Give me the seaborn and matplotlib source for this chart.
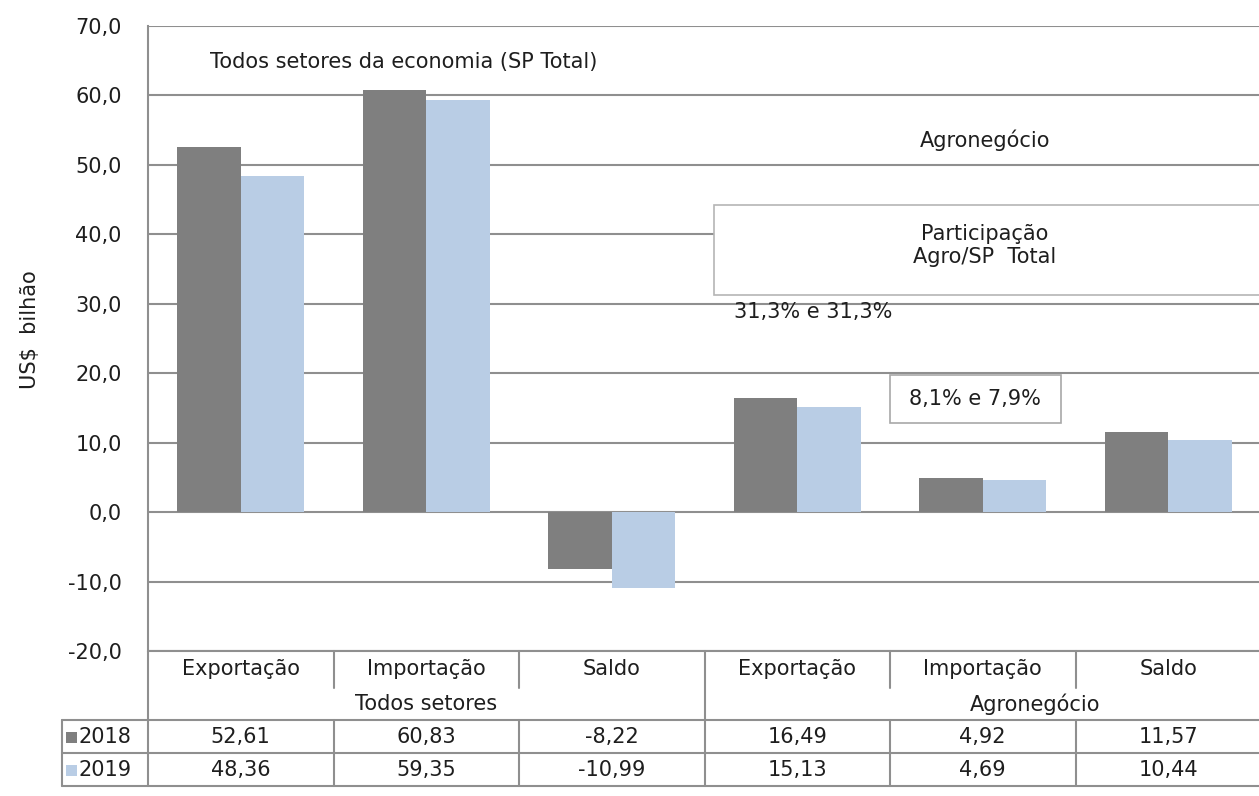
import numpy as np
import pandas as pd
import seaborn as sns
import matplotlib.pyplot as plt
from matplotlib.patches import Rectangle
from matplotlib.lines import Line2D
from matplotlib.transforms import blended_transform_factory

# data
grupos = ['Todos setores', 'Agronegócio']
categorias = ['Exportação', 'Importação', 'Saldo', 'Exportação', 'Importação', 'Saldo']
anos = ['2018', '2019']
v2018 = [52.61, 60.83, -8.22, 16.49, 4.92, 11.57]
v2019 = [48.36, 59.35, -10.99, 15.13, 4.69, 10.44]
yticks = [-20, -10, 0, 10, 20, 30, 40, 50, 60, 70]

cores = ['#7f7f7f', '#b9cde5']
cor_grade = '#8f8f8f'
cor_texto = '#1e1e1e'
fs = 15


def br(v, nd):
    return f'{v:.{nd}f}'.replace('.', ',')


chaves = [f'{i}_{c}' for i, c in enumerate(categorias)]
df = pd.DataFrame({
    'chave': chaves * 2,
    'ano': [anos[0]] * 6 + [anos[1]] * 6,
    'valor': v2018 + v2019,
})

sns.set_theme(style='white')
plt.rcParams['font.family'] = ['DejaVu Sans']

W, H = 1259, 796
fig = plt.figure(figsize=(W / 100, H / 100), dpi=100)
ax = fig.add_axes([148 / W, 1 - 651 / H, (1261 - 148) / W, (651 - 26) / H])

sns.barplot(data=df, x='chave', y='valor', hue='ano', order=chaves, hue_order=anos,
            palette=cores, width=0.685, saturation=1, linewidth=0, ax=ax, legend=False, zorder=3)

ax.set_xlim(-0.5, 5.5)
ax.set_ylim(-20, 70)
ax.set_yticks(yticks)
ax.set_yticklabels([br(v, 1) for v in yticks], fontsize=fs, color=cor_texto)
ax.tick_params(axis='y', length=0, pad=19)
ax.set_xticks([])
ax.set_xlabel('')
ax.set_ylabel('')
ax.yaxis.grid(True, color=cor_grade, linewidth=1.5, zorder=0)
ax.set_axisbelow(True)
for s in ['top', 'right', 'bottom']:
    ax.spines[s].set_visible(False)
ax.spines['left'].set_color(cor_grade)
ax.spines['left'].set_linewidth(1.5)

fig.text(30 / W, 1 - 330 / H, 'US$  bilhão', rotation=90, ha='center', va='center',
         fontsize=fs, color=cor_texto)

# annotations inside the plot
ax.text(-0.166, 64.8, 'Todos setores da economia (SP Total)', ha='left', va='center',
        fontsize=fs, color=cor_texto, zorder=5)
ax.text(4.01, 53.6, 'Agronegócio', ha='center', va='center', fontsize=fs, color=cor_texto, zorder=5)
ax.add_patch(Rectangle((2.55, 31.3), 3.2, 12.9, facecolor='white', edgecolor='#b5b5b5',
                       linewidth=1.2, zorder=4, clip_on=False))
ax.text(4.01, 38.4, 'Participação\nAgro/SP  Total', ha='center', va='center', fontsize=fs,
        color=cor_texto, linespacing=1.15, zorder=5)
ax.text(2.66, 28.8, '31,3% e 31,3%', ha='left', va='center', fontsize=fs, color=cor_texto, zorder=5)
ax.add_patch(Rectangle((3.5, 12.8), 0.92, 6.9, facecolor='white', edgecolor='#a8a8a8',
                       linewidth=1.2, zorder=4))
ax.text(3.96, 16.3, '8,1% e 7,9%', ha='center', va='center', fontsize=fs, color=cor_texto, zorder=5)

# data table under the axis
tr = blended_transform_factory(ax.transData, fig.transFigure)


def fy(y):
    return 1 - y / H


def linha(x0, x1, y0, y1):
    fig.add_artist(Line2D([x0, x1], [fy(y0), fy(y1)], transform=tr, color=cor_grade,
                          linewidth=1.5, clip_on=False))


x_leg = -0.5 - 86 / 185.5
x_fim = 5.6
linha(-0.5, x_fim, 651, 651)
linha(x_leg, x_fim, 720, 720)
linha(x_leg, x_fim, 753, 753)
linha(x_leg, x_fim, 786, 786)
linha(-0.5, -0.5, 651, 786)
linha(x_leg, x_leg, 720, 786)
for i in range(1, 6):
    x = i - 0.5
    if i == 3:
        linha(x, x, 651, 786)
    else:
        linha(x, x, 651, 688)
        linha(x, x, 720, 786)

for i, c in enumerate(categorias):
    fig.text(i, fy(669), c, transform=tr, ha='center', va='center', fontsize=fs, color=cor_texto)
    fig.text(i, fy(737), br(v2018[i], 2), transform=tr, ha='center', va='center',
             fontsize=fs, color=cor_texto)
    fig.text(i, fy(770), br(v2019[i], 2), transform=tr, ha='center', va='center',
             fontsize=fs, color=cor_texto)

fig.text(1, fy(704), grupos[0], transform=tr, ha='center', va='center', fontsize=fs, color=cor_texto)
fig.text((1035 - 148) / 185.5 - 0.5, fy(704), grupos[1], transform=tr, ha='center', va='center',
         fontsize=fs, color=cor_texto)

for yy, ano, cor in [(737, anos[0], cores[0]), (770, anos[1], cores[1])]:
    fig.add_artist(Rectangle((66 / W, fy(yy + 6)), 11 / W, 11 / H, transform=fig.transFigure,
                             facecolor=cor, edgecolor='none'))
    fig.text(79 / W, fy(yy), ano, ha='left', va='center', fontsize=fs, color=cor_texto)

fig.savefig('out.png', dpi=100, facecolor='white')
